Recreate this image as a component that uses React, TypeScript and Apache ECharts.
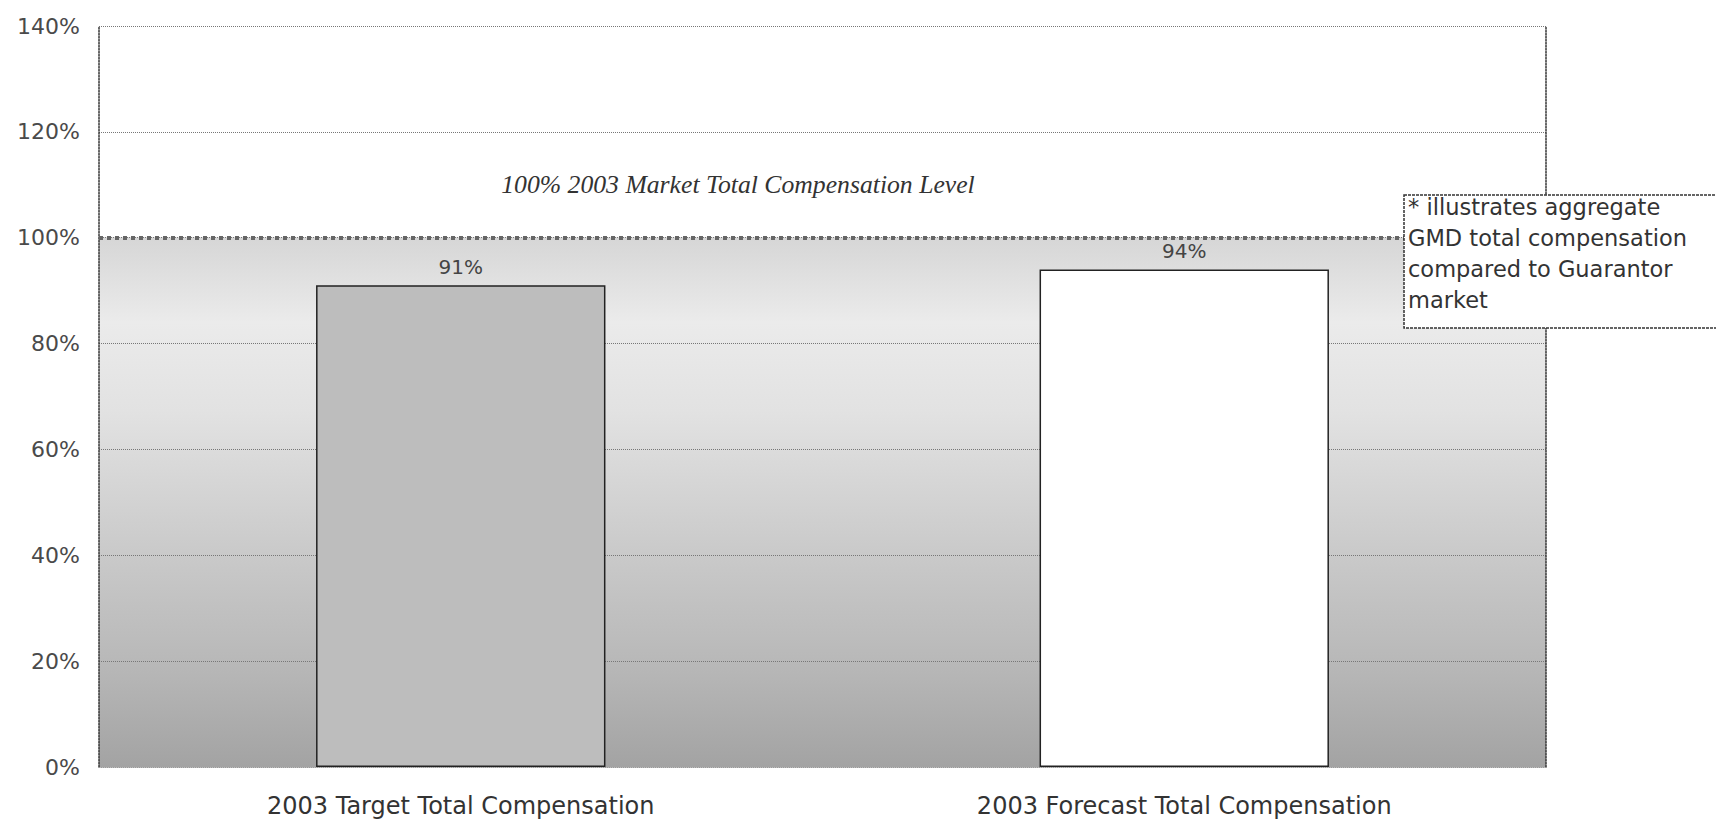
import React, { useEffect, useRef } from "react";
import * as echarts from "echarts";

const categories = ["2003 Target Total Compensation", "2003 Forecast Total Compensation"];
const values = [91, 94];
const barColors = ["#bdbdbd", "#ffffff"];
const yMin = 0;
const yMax = 140;
const yInterval = 20;
const marketLevel = 100;
const marketLabel = "100% 2003 Market Total Compensation Level";
const noteLines = ["* illustrates aggregate", "GMD total compensation", "compared to Guarantor", "market"];

export default function App() {
  const ref = useRef<HTMLDivElement>(null);

  useEffect(() => {
    if (!ref.current) return;
    const chart = echarts.init(ref.current, null, { renderer: "svg" });
    const cut = (yMax - marketLevel) / (yMax - yMin);
    const bg = new echarts.graphic.LinearGradient(0, 0, 0, 1, [
      { offset: 0, color: "#ffffff" },
      { offset: cut - 0.001, color: "#ffffff" },
      { offset: cut, color: "#d6d6d6" },
      { offset: 0.40, color: "#ebebeb" },
      { offset: 0.52, color: "#e2e2e2" },
      { offset: 0.70, color: "#cbcbcb" },
      { offset: 0.86, color: "#b8b8b8" },
      { offset: 1, color: "#a3a3a3" },
    ]);
    chart.setOption({
      animation: false,
      backgroundColor: "#ffffff",
      grid: {
        left: 99,
        right: 170,
        top: 26,
        bottom: 52,
        show: true,
        borderWidth: 0,
        backgroundColor: bg,
      },
      xAxis: {
        type: "category",
        data: categories,
        axisTick: { show: false },
        axisLine: { show: true, lineStyle: { color: "#999", type: "dotted", width: 1 } },
        axisLabel: {
          fontFamily: "DejaVu Sans",
          fontSize: 24,
          color: "#333",
          margin: 27,
        },
      },
      yAxis: [
        {
          type: "value",
          min: yMin,
          max: yMax,
          interval: yInterval,
          axisTick: { show: false },
          axisLine: { show: true, lineStyle: { color: "#333", type: "dotted", width: 1.5 } },
          splitLine: { show: true, lineStyle: { color: "#777", type: "dotted", width: 1 } },
          axisLabel: {
            formatter: "{value}%",
            fontFamily: "DejaVu Sans",
            fontSize: 22,
            color: "#4a4a4a",
            margin: 19,
          },
        },
        {
          type: "value",
          position: "right",
          min: yMin,
          max: yMax,
          interval: yInterval,
          axisTick: { show: false },
          axisLabel: { show: false },
          splitLine: { show: false },
          axisLine: { show: true, lineStyle: { color: "#333", type: "dotted", width: 1.5 } },
        },
      ],
      series: [
        {
          type: "bar",
          data: values.map((v, i) => ({ value: v, itemStyle: { color: barColors[i] } })),
          barWidth: "40%",
          itemStyle: { borderColor: "#222", borderWidth: 1.5 },
          label: {
            show: true,
            position: "top",
            distance: 8,
            formatter: "{c}%",
            fontFamily: "DejaVu Sans",
            fontSize: 20,
            color: "#444",
          },
          markLine: {
            silent: true,
            symbol: "none",
            label: { show: false },
            lineStyle: { color: "#666", width: 4, type: "dotted" },
            data: [{ yAxis: marketLevel }],
          },
        },
      ],
      graphic: [
        {
          type: "text",
          x: 738,
          y: 184,
          style: {
            text: marketLabel,
            fontFamily: "Liberation Serif",
            fontStyle: "italic",
            fontSize: 25.7,
            fill: "#333",
            align: "center",
            verticalAlign: "middle",
          },
        },
        {
          type: "rect",
          z: 10,
          shape: { x: 1404, y: 195, width: 330, height: 133 },
          style: { fill: "#ffffff", stroke: "#333", lineWidth: 1.5, lineDash: [3, 1] },
        },
        {
          type: "text",
          z: 11,
          x: 1408,
          y: 191,
          style: {
            text: noteLines.join("\n"),
            fontFamily: "DejaVu Sans",
            fontSize: 22.5,
            lineHeight: 31,
            fill: "#333",
            align: "left",
            verticalAlign: "top",
          },
        },
      ],
    });
    return () => chart.dispose();
  }, []);

  return (
    <div
      ref={ref}
      style={{ position: "absolute", left: 0, top: 0, width: 1716, height: 819 }}
    />
  );
}
